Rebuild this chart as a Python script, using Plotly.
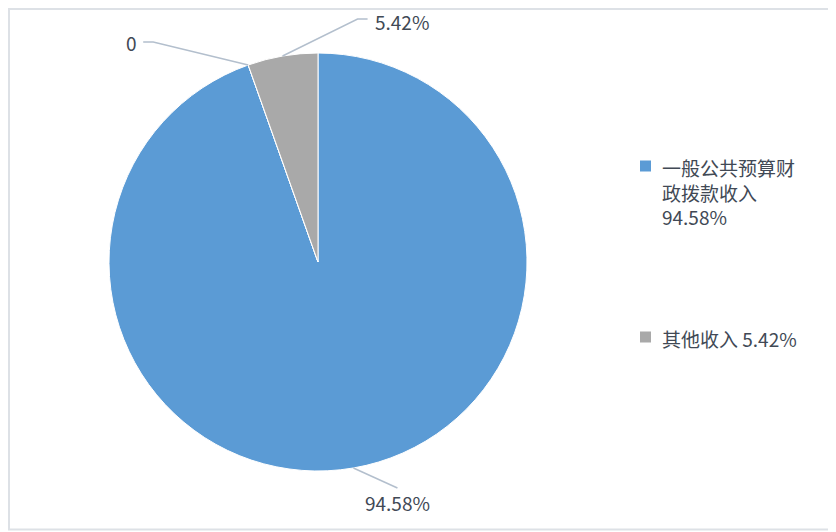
import math
import plotly.graph_objects as go

# ---- data ----
categories = ["一般公共预算财政拨款收入", "未列示项目", "其他收入"]
values = [94.58, 0, 5.42]
value_labels = ["94.58%", "0", "5.42%"]
legend_labels = ["一般公共预算财<br>政拨款收入<br>94.58%", "", "其他收入 5.42%"]
colors = ["#5b9bd5", "#8fb4de", "#a9a9a9"]

W, H = 836, 532
OFF = 8  # page body margin: figure's top-left sits at screen (8, 8)
FONT = "Noto Sans CJK SC"
TXT = "#414955"
LEADER = "#b3bfcd"

# pie geometry (screen pixels)
cx, cy, r = 318, 262, 209

fig = go.Figure()
fig.add_trace(go.Pie(
    labels=categories, values=values, sort=False, direction="clockwise", rotation=0,
    marker=dict(colors=colors, line=dict(color="white", width=1)),
    textinfo="none", hoverinfo="label+value", showlegend=False,
    domain=dict(x=[(cx - r - OFF) / W, (cx + r - OFF) / W],
                y=[1 - (cy + r - OFF) / H, 1 - (cy - r - OFF) / H]),
))

# leader-line styling per slice: elbow offset, horizontal tail, text anchor
leader_style = [
    dict(dx=44, dy=20, tail=0, tx=0, ty=15, xanchor="center"),
    dict(dx=-95, dy=-23, tail=-10, tx=-5, ty=0, xanchor="right"),
    dict(dx=75, dy=-37, tail=10, tx=6, ty=2.5, xanchor="left"),
]

total = sum(values)
cum = 0.0
shapes = []
annotations = []
for i, v in enumerate(values):
    mid = (cum + v / 2) / total * 2 * math.pi
    cum += v
    sx = cx + r * math.sin(mid)
    sy = cy - r * math.cos(mid)
    st = leader_style[i]
    ex, ey = sx + st["dx"], sy + st["dy"]
    hx = ex + st["tail"]
    path = f"M {sx},{sy} L {ex},{ey} L {hx},{ey}"
    shapes.append(dict(type="path", xref="x", yref="y", path=path,
                       line=dict(color=LEADER, width=1.5)))
    annotations.append(dict(x=hx + st["tx"], y=ey + st["ty"], xref="x", yref="y",
                            text=value_labels[i], showarrow=False, borderpad=0,
                            xanchor=st["xanchor"], yanchor="middle",
                            font=dict(family=FONT, size=19, color=TXT)))

# legend (manual, to match spacing)
legend_rows = [(0, 166), (2, 337)]
for idx, ly in legend_rows:
    shapes.append(dict(type="rect", xref="x", yref="y", x0=640, x1=651, y0=ly - 5.5, y1=ly + 5.5,
                       fillcolor=colors[idx], line=dict(width=0)))
    annotations.append(dict(x=660, y=ly - 14, xref="x", yref="y", text=legend_labels[idx],
                            showarrow=False, xanchor="left", yanchor="top", align="left",
                            font=dict(family=FONT, size=19, color=TXT)))

# chart border
shapes.append(dict(type="rect", xref="x", yref="y", x0=OFF + 1, x1=834, y0=OFF + 1, y1=529.5,
                   line=dict(color="#dde1e6", width=2), fillcolor="rgba(0,0,0,0)"))

fig.update_layout(
    width=W, height=H, margin=dict(l=0, r=0, t=0, b=0),
    paper_bgcolor="white", plot_bgcolor="rgba(0,0,0,0)",
    xaxis=dict(range=[OFF, W + OFF], visible=False, fixedrange=True),
    yaxis=dict(range=[H + OFF, OFF], visible=False, fixedrange=True),
    shapes=shapes, annotations=annotations, showlegend=False,
)

fig.write_html("out.html")
